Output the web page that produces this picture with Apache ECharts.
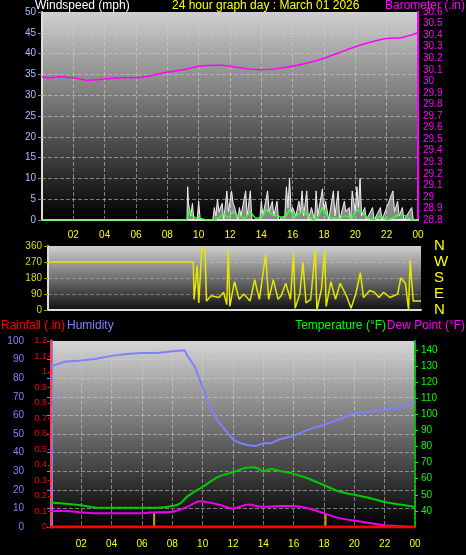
<!DOCTYPE html>
<html><head><meta charset="utf-8">
<script src="https://cdn.jsdelivr.net/npm/echarts@6/dist/echarts.min.js"></script>
<style>html,body{margin:0;background:#000}#c{width:466px;height:555px}</style>
</head><body><div id="c"></div>
<script>
// ---- data ----
const baroT = [0,0.5,1,2,3,4,5,6,7,8,9,10,11,11.5,12,13,14,15,16,17,18,19,20,21,22,23,24];
const baroV = [30.04,30.03,30.04,30.03,30.01,30.02,30.03,30.03,30.05,30.08,30.1,30.13,30.14,30.14,30.13,30.11,30.10,30.11,30.13,30.16,30.2,30.25,30.3,30.34,30.37,30.38,30.42];
const gustT = [0,9.25,9.3,9.35,9.4,9.5,9.6,9.7,9.9,10,10.1,10.9,11,11.1,11.2,11.3,11.5,11.6,11.8,11.9,12.1,12.2,12.3,12.5,12.6,12.7,13,13.1,13.3,13.4,13.9,14,14.1,14.4,14.5,14.7,14.8,15,15.1,15.5,15.6,15.7,15.8,15.9,16,16.2,16.4,16.5,16.6,16.7,16.9,17,17.2,17.4,17.5,17.6,17.9,18,18.1,18.3,18.6,18.7,18.9,19,19.3,19.4,19.6,19.7,19.8,20,20.1,20.2,20.3,20.4,20.6,20.7,21.1,21.2,21.6,21.7,22.4,22.5,22.7,22.8,23,23.1,23.6,23.7,24];
const gustV = [0,0,8,4,4,1,4,0,0,4.5,0,0,3,1,5,2,4,0,7,2,7,4,3,0,3,1,7,1,7,0,0,4.5,1,7,2,4.5,1,4.5,0,1,8,3,10,2,3,1,4.5,2,7,1,7,0,3,0,7,1,7.5,2,4.5,0,7,1,7,0,4.5,2,3,0,7,2,8,3,10,1,3,0,3,0,3,0,7,2,4.5,1,3,0,3,0,0];
const avgT = [0,9.25,9.4,9.6,9.8,10,10.5,11,11.3,11.6,11.9,12.2,12.5,13,13.3,13.6,14,14.3,14.6,15,15.5,15.8,16.1,16.4,16.7,17,17.3,17.6,17.9,18.2,18.6,19,19.4,19.8,20.1,20.4,20.8,21.2,21.6,22,22.4,22.8,23.2,23.6,24];
const avgV = [0,0,2.5,1,0.5,0.5,0,0,0.5,1.5,0.5,2,1,0.5,2,0.5,0.5,2.5,1.5,1,0.5,2.5,0.5,1.5,2,1,0,0.5,3,1,0.5,0.5,1,0.5,2.5,2,0.5,0,1,0,0.5,1.5,1,0,0];
const dirT = [0,9.35,9.4,9.6,9.7,9.9,10.1,10.2,10.5,11,11.3,11.5,11.6,11.7,12,12.3,12.6,13,13.3,13.6,14,14.2,14.5,14.8,15,15.3,15.6,15.8,15.9,16.2,16.4,16.6,16.9,17.2,17.3,17.6,17.8,17.9,18.2,18.5,18.8,19.2,19.5,19.8,20.1,20.3,20.7,21,21.3,21.6,22,22.5,22.7,23,23.2,23.3,23.4,23.5,24];
const dirV = [270,270,60,250,40,350,340,50,80,70,100,30,340,20,160,60,90,50,170,60,310,60,170,60,80,150,60,320,10,90,270,40,60,340,0,120,330,20,160,60,150,80,10,90,210,70,110,100,70,100,70,90,180,150,0,280,270,50,50];
const humT = [0,1,2,3,4,5,6,7,8,8.8,9,9.5,10,10.5,11,11.5,12,12.5,13,13.5,14,14.5,15,15.5,16,17,18,19,20,21,22,23,24];
const humV = [86.5,89,89.5,90.5,92,93,93.5,93.5,94.5,95,92,86,75,64,57,52,47,45,44,43.5,45,45,47,48,49,52.5,55,58,61,62,63,64,67.5];
const tempT = [0,1,2,3,4,5,6,7,8,8.5,9,10,11,12,13,13.5,14,14.5,15,16,17,18,19,20,21,22,23,24];
const tempV = [45,44.5,43.5,42,42,42,42,42,43,44.5,49,55,61,64,67,67,64.5,66,65,63,60,56,52,50,48,45.5,44,42.5];
const dewT = [0,1,2,3,4,5,6,6.5,8,9,9.8,10.5,11,12,13,14,15,16,17,18,19,20,21,22,23,24];
const dewV = [40,40,39,38.5,38.5,38.5,38.5,39,39.5,42.5,46,45,44,41.5,44,42.5,43,43,41.5,38.5,35.5,34,32.5,31,30.5,29.5];
const rainT = [0,24];
const rainV = [0,0];
const rainMarkT = [6.8,18.1];
const rainMarkV = [0.09,0.09];
const dirLabels = ['N','E','S','W','N'];

const zip = (t,v)=>t.map((x,i)=>[x,v[i]]);
const F = 'Liberation Sans, Arial, sans-serif';
const hourFmt = v => v===0 ? '' : String(v%24).padStart(2,'0');
const bg = (top,bot)=>({type:'linear',x:0,y:0,x2:0,y2:1,colorStops:[{offset:0,color:top},{offset:1,color:bot}]});
const split = {show:true,lineStyle:{color:'rgba(210,210,210,0.55)',type:'dashed',width:1}};
const txt = (x,y,s,c,align)=>({type:'text',left:align==='right'?undefined:x,right:align==='right'?x:undefined,top:y,style:{text:s,fill:c,font:'12px '+F}});

const chart = echarts.init(document.getElementById('c'));
chart.setOption({
  backgroundColor:'#000',
  animation:false,
  graphic:[
    txt(35,0,'Windspeed (mph)','#fff'),
    txt(172,0,'24 hour graph day : March 01 2026','#ffff00'),
    txt(1,0,'Barometer (.in)','#ff00ff','right'),
    txt(1,320,'Rainfall (.in)','#ff0000'),
    txt(67,320,'Humidity','#8080ff'),
    txt(80,320,'Temperature (°F)','#00ff00','right'),
    txt(1,320,'Dew Point (°F)','#ff00ff','right')
  ],
  grid:[
    {left:42,right:48,top:12,height:208,show:true,backgroundColor:bg('#cfcfcf','#000'),borderWidth:0},
    {left:48,right:45,top:246,height:64,show:true,backgroundColor:bg('#d0d0d0','#111'),borderWidth:0},
    {left:51,right:51,top:341,height:186,show:true,backgroundColor:bg('#d5d5d5','#000'),borderWidth:0}
  ],
  xAxis:[
    {gridIndex:0,type:'value',min:0,max:24,interval:2,axisLine:{lineStyle:{color:'#ddd',width:2}},axisTick:{show:false},
     axisLabel:{color:'#ffff00',fontSize:10,fontFamily:F,formatter:hourFmt,margin:10},splitLine:split},
    {gridIndex:1,type:'value',min:0,max:24,interval:2,axisLine:{lineStyle:{color:'#ddd',width:2}},axisTick:{show:false},axisLabel:{show:false},splitLine:{show:false}},
    {gridIndex:2,type:'value',min:0,max:24,interval:2,axisLine:{show:false},axisTick:{show:false},
     axisLabel:{color:'#ffff00',fontSize:10,fontFamily:F,formatter:hourFmt,margin:12},splitLine:split}
  ],
  yAxis:[
    {gridIndex:0,position:'left',min:0,max:50,interval:5,axisLine:{show:true,lineStyle:{color:'#ddd',width:2}},axisTick:{show:true,length:4,lineStyle:{color:'#888'}},
     axisLabel:{color:'#9fc0ff',fontSize:10,fontFamily:F,margin:6},splitLine:split},
    {gridIndex:0,position:'right',min:28.8,max:30.6,interval:0.1,axisLine:{show:true,lineStyle:{color:'#ff00ff',width:2}},axisTick:{show:false},
     axisLabel:{color:'#ff00ff',fontSize:10,fontFamily:F,margin:5,formatter:v=>String(+v.toFixed(1))},splitLine:{show:false}},
    {gridIndex:1,position:'left',min:0,max:360,interval:90,axisLine:{show:true,lineStyle:{color:'#ddd',width:2}},axisTick:{show:true,length:4,lineStyle:{color:'#aaa000'}},
     axisLabel:{color:'#dddd00',fontSize:10,fontFamily:F,margin:6},splitLine:{show:true,lineStyle:{color:'rgba(210,210,210,0.4)',type:'dashed'}}},
    {gridIndex:1,position:'right',min:0,max:360,interval:90,axisLine:{show:false},axisTick:{show:false},
     axisLabel:{color:'#ffff00',fontSize:15,fontFamily:F,margin:13,formatter:v=>dirLabels[v/90]},splitLine:{show:false}},
    {gridIndex:2,position:'left',min:0,max:100,interval:10,offset:21,axisLine:{show:true,lineStyle:{color:'#8080ff',width:3}},axisTick:{show:true,length:4,lineStyle:{color:'#8080ff'}},
     axisLabel:{color:'#8080ff',fontSize:10,fontFamily:F,margin:6},splitLine:split},
    {gridIndex:2,position:'left',offset:0,min:0,max:1.2,interval:0.1,axisLine:{show:true,lineStyle:{color:'#ff4040',width:2,type:'dotted'}},axisTick:{show:true,length:3,lineStyle:{color:'#ff0000'}},
     axisLabel:{color:'#ff0000',fontSize:9,fontFamily:F,margin:4,formatter:v=>String(+v.toFixed(1))},splitLine:{show:false}},
    {gridIndex:2,position:'right',min:30,max:145.5,interval:10,axisLine:{show:true,lineStyle:{color:'#00c000',width:2,type:'dotted'}},axisTick:{show:true,length:3,lineStyle:{color:'#00ff00'}},
     axisLabel:{color:'#00ff00',fontSize:10,fontFamily:F,margin:6,showMinLabel:false},splitLine:{show:false}}
  ],
  series:[
    {type:'line',xAxisIndex:0,yAxisIndex:0,data:zip(gustT,gustV),symbol:'none',lineStyle:{color:'#f0f0f0',width:1},areaStyle:{color:'rgba(240,240,240,0.8)'}},
    {type:'line',xAxisIndex:0,yAxisIndex:0,data:zip(avgT,avgV),symbol:'none',lineStyle:{color:'#33ff33',width:1.5}},
    {type:'line',xAxisIndex:0,yAxisIndex:1,data:zip(baroT,baroV),symbol:'none',smooth:0.3,lineStyle:{color:'#ff00ff',width:1.5}},
    {type:'line',xAxisIndex:1,yAxisIndex:2,data:zip(dirT,dirV),symbol:'none',lineStyle:{color:'#e6e600',width:1.5}},
    {type:'line',xAxisIndex:2,yAxisIndex:4,data:zip(humT,humV),symbol:'none',lineStyle:{color:'#8080ff',width:2}},
    {type:'line',xAxisIndex:2,yAxisIndex:6,data:zip(tempT,tempV),symbol:'none',smooth:0.3,lineStyle:{color:'#00cc00',width:2}},
    {type:'line',xAxisIndex:2,yAxisIndex:6,data:zip(dewT,dewV),symbol:'none',smooth:0.3,lineStyle:{color:'#ee00ee',width:2}},
    {type:'line',xAxisIndex:2,yAxisIndex:5,data:zip(rainT,rainV),symbol:'none',lineStyle:{color:'#ff0000',width:3}},
    {type:'bar',xAxisIndex:2,yAxisIndex:5,data:zip(rainMarkT,rainMarkV),barWidth:2,itemStyle:{color:'#c8a000'}}
  ]
});
</script></body></html>
